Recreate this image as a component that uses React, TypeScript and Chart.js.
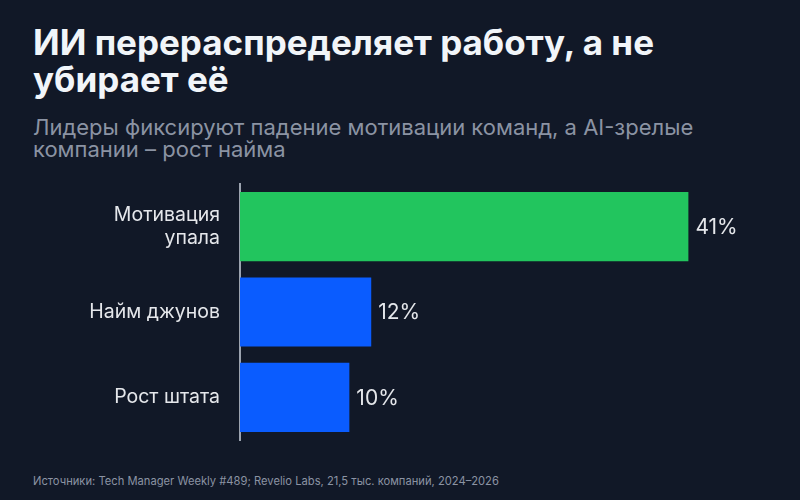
import { useEffect, useRef } from "react";
import { Chart, registerables } from "chart.js";

Chart.register(...registerables);

const categories: (string | string[])[] = [["Мотивация", "упала"], "Найм джунов", "Рост штата"];
const values = [41, 12, 10];
const barColors = ["#22c55e", "#0a5cff", "#0a5cff"];

const FONT = "Inter, 'DejaVu Sans', sans-serif";

const valueLabels = {
  id: "valueLabels",
  afterDatasetsDraw(chart: Chart) {
    const ctx = chart.ctx;
    const meta = chart.getDatasetMeta(0);
    ctx.save();
    ctx.font = `400 21px ${FONT}`;
    ctx.fillStyle = "#e5e7eb";
    ctx.textAlign = "left";
    ctx.textBaseline = "middle";
    meta.data.forEach((bar: any, i: number) => {
      ctx.fillText(`${values[i]}%`, bar.x + 7, bar.y + 1);
    });
    ctx.restore();
  },
};

export default function App() {
  const canvasRef = useRef<HTMLCanvasElement>(null);

  useEffect(() => {
    document.body.style.margin = "0";
    if (!canvasRef.current) return;
    const chart = new Chart(canvasRef.current, {
      type: "bar",
      data: {
        labels: categories,
        datasets: [
          {
            data: values,
            backgroundColor: barColors,
            borderWidth: 0,
            barPercentage: 0.9,
            categoryPercentage: 0.9,
          },
        ],
      },
      options: {
        indexAxis: "y",
        animation: false,
        responsive: false,
        maintainAspectRatio: false,
        layout: { padding: { top: 14, bottom: 20, right: 46 } },
        plugins: {
          legend: { display: false },
          tooltip: { enabled: false },
        },
        scales: {
          x: {
            display: false,
            min: 0,
            max: 47,
          },
          y: {
            afterFit: (scale: any) => {
              scale.width = 240;
              scale.paddingTop = 0;
              scale.paddingBottom = 0;
            },
            grid: { display: false, drawTicks: false },
            border: { display: true, color: "#9ca3af", width: 2 },
            ticks: {
              color: "#e5e7eb",
              padding: 20,
              font: { family: FONT, size: 19.5 },
            },
          },
        },
      },
      plugins: [valueLabels],
    });
    return () => chart.destroy();
  }, []);

  return (
    <div
      style={{
        position: "relative",
        width: 800,
        height: 500,
        background: "#111827",
        fontFamily: FONT,
        overflow: "hidden",
      }}
    >
      <div
        style={{
          position: "absolute",
          left: 33,
          top: 24,
          color: "#f1f5f9",
          fontSize: 35,
          fontWeight: 700,
          lineHeight: "37px",
          whiteSpace: "nowrap",
        }}
      >
        ИИ перераспределяет работу, а не
        <br />
        убирает её
      </div>
      <div
        style={{
          position: "absolute",
          left: 33,
          top: 116,
          color: "#8b93a3",
          fontSize: 22,
          lineHeight: "22px",
          whiteSpace: "nowrap",
        }}
      >
        Лидеры фиксируют падение мотивации команд, а AI-зрелые
        <br />
        компании – рост найма
      </div>
      <canvas
        ref={canvasRef}
        width={800}
        height={290}
        style={{ position: "absolute", left: 0, top: 170, width: 800, height: 290 }}
      />
      <div
        style={{
          position: "absolute",
          left: 33,
          top: 474,
          color: "#8b93a3",
          fontSize: 11.2,
        }}
      >
        Источники: Tech Manager Weekly #489; Revelio Labs, 21,5 тыс. компаний, 2024–2026
      </div>
    </div>
  );
}
